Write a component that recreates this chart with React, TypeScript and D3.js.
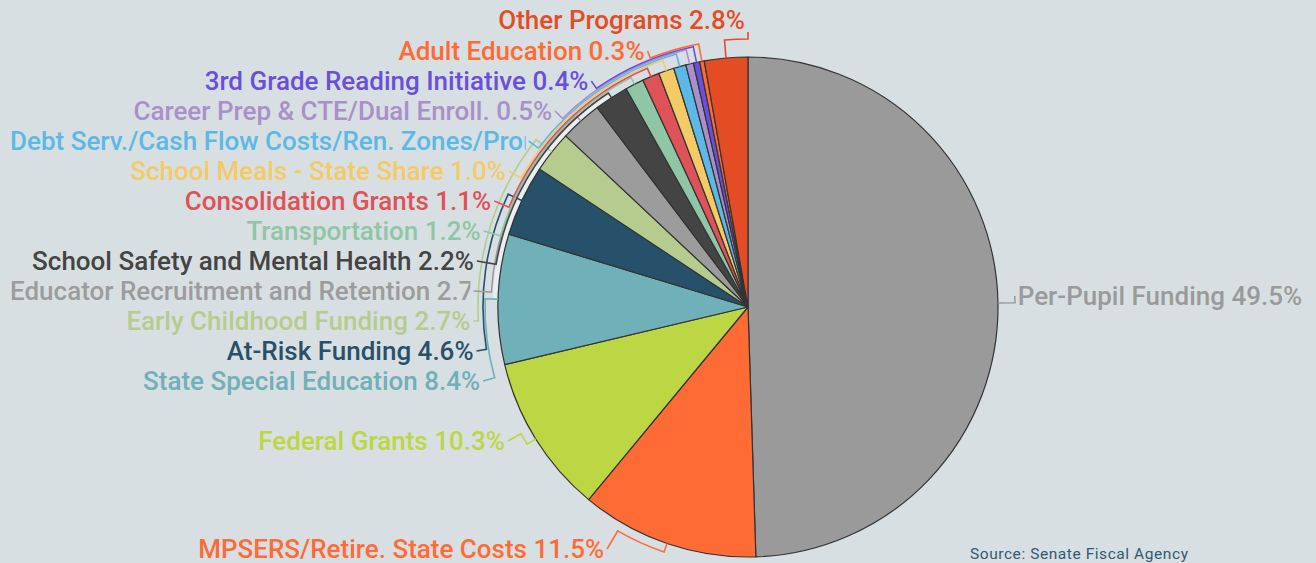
import React, { useEffect, useRef } from 'react';
import * as d3 from 'd3';

// ---- data ----
const categories = [
  'Per-Pupil Funding',
  'MPSERS/Retire. State Costs',
  'Federal Grants',
  'State Special Education',
  'At-Risk Funding',
  'Early Childhood Funding',
  'Educator Recruitment and Retention',
  'School Safety and Mental Health',
  'Transportation',
  'Consolidation Grants',
  'School Meals - State Share',
  'Debt Serv./Cash Flow Costs/Ren. Zones/Prorations',
  'Career Prep & CTE/Dual Enroll.',
  '3rd Grade Reading Initiative',
  'Adult Education',
  'Other Programs',
];
const values = [49.5, 11.5, 10.3, 8.4, 4.6, 2.7, 2.7, 2.2, 1.2, 1.1, 1.0, 0.8, 0.5, 0.4, 0.3, 2.8];
const colors = [
  '#9a9a9a', '#ff6b35', '#bdd643', '#6fb0b9', '#27506a', '#b6cc8e', '#9c9c9c', '#444444',
  '#8fc6a5', '#de5258', '#f3cb66', '#5cb9e7', '#aa90ca', '#6a4fdc', '#ff6b35', '#e44d24',
];
const sourceText = 'Source: Senate Fiscal Agency';

// ---- layout (label rows & connector routing) ----
const labelRows = [296, 549, 441, 381, 351, 321, 291, 261, 231, 201, 171, 141, 111, 81, 51, 20];
const labelRadius = [267, 280, 275, 275, 275, 275, 275, 275, 275, 275, 275, 275, 275, 275, 275, 275];
const connectorOffset = [17, 9, 10, 13, 15, 20, 7, 5.5, 7.5, 9, 11, 13, 14.5, 16, 17.5, 18];

const W = 1316;
const H = 563;
const CX = 748;
const CY = 307;
const R = 250;

export default function App() {
  const ref = useRef<SVGSVGElement>(null);

  useEffect(() => {
    document.body.style.margin = '0';
    const svg = d3.select(ref.current);
    svg.selectAll('*').remove();

    svg.append('rect').attr('width', W).attr('height', H).attr('fill', '#d8dfe2');

    const data = categories.map((name, i) => ({ name, value: values[i], color: colors[i], i }));
    const pie = d3
      .pie<any>()
      .sort(null)
      .value((d: any) => d.value)
      .startAngle(0)
      .endAngle(2 * Math.PI);
    const arcs = pie(data);
    const arcGen = d3.arc<any>().innerRadius(0).outerRadius(R);
    const mid = (a: any) => (a.startAngle + a.endAngle) / 2;
    const pt = (r: number, ang: number) => [CX + r * Math.sin(ang), CY - r * Math.cos(ang)];

    // light halo band along the crowded left edge
    const band = d3.arc<any>()({
      innerRadius: R + 0.5,
      outerRadius: R + 5.5,
      startAngle: mid(arcs[3]),
      endAngle: mid(arcs[7]),
    } as any);
    svg
      .append('path')
      .attr('transform', `translate(${CX},${CY})`)
      .attr('d', band as string)
      .attr('fill', '#e9eef0');

    // slices
    svg
      .append('g')
      .attr('transform', `translate(${CX},${CY})`)
      .selectAll('path')
      .data(arcs)
      .join('path')
      .attr('d', arcGen as any)
      .attr('fill', (d: any) => d.data.color)
      .attr('stroke', '#333')
      .attr('stroke-width', 1.2)
      .attr('stroke-linejoin', 'round');

    const defs = svg.append('defs');
    const connG = svg.append('g');
    const labG = svg.append('g');

    arcs.forEach((d: any, i: number) => {
      const a = mid(d);
      const a2 = a > Math.PI ? a - 2 * Math.PI : a;
      const left = a2 < 0;
      const rL = labelRadius[i];
      const y = labelRows[i];
      const dy = y - CY;
      let ax: number, ay: number;
      if (Math.abs(dy) < rL) {
        ax = CX + (left ? -1 : 1) * Math.sqrt(rL * rL - dy * dy);
        ay = y;
      } else {
        ax = CX;
        ay = dy < 0 ? CY - rL : CY + rL;
      }
      const b = Math.atan2(ax - CX, -(ay - CY));
      const ro = R + connectorOffset[i];
      const p0 = pt(R, a);
      const p1 = pt(ro, a);
      const p2 = pt(ro, b);
      const sweep = b > a2 ? 1 : 0;
      const path = d3.path();
      path.moveTo(p0[0], p0[1]);
      path.lineTo(p1[0], p1[1]);
      const pathStr =
        path.toString() +
        `A${ro},${ro} 0 0 ${sweep} ${p2[0]},${p2[1]}` +
        `L${ax},${ay}`;
      connG
        .append('path')
        .attr('d', pathStr)
        .attr('fill', 'none')
        .attr('stroke', d.data.color)
        .attr('stroke-width', 1.6)
        .attr('stroke-linejoin', 'miter');

      const text = labG
        .append('text')
        .attr('x', left ? ax - 3 : ax + 3)
        .attr('y', y)
        .attr('dy', '0.36em')
        .attr('text-anchor', left ? 'end' : 'start')
        .attr('font-family', 'Roboto, sans-serif')
        .attr('font-size', 26)
        .attr('font-weight', 500)
        .attr('fill', d.data.color)
        .text(`${d.data.name} ${d.data.value.toFixed(1)}%`);
      const node = text.node() as SVGTextElement;
      const w = node.getComputedTextLength();
      if (left && ax - 3 - w < 10) {
        const id = `clip-${i}`;
        defs
          .append('clipPath')
          .attr('id', id)
          .append('rect')
          .attr('x', 0)
          .attr('y', y - 20)
          .attr('width', ax - 3)
          .attr('height', 40);
        text.attr('x', 10).attr('text-anchor', 'start').attr('clip-path', `url(#${id})`);
      }
    });

    svg
      .append('text')
      .attr('x', 970)
      .attr('y', 553)
      .attr('dy', '0.36em')
      .attr('font-family', 'Roboto, sans-serif')
      .attr('font-size', 15.5)
      .attr('fill', '#2f5a76')
      .attr('textLength', 218)
      .text(sourceText);
  }, []);

  return <svg ref={ref} width={W} height={H} style={{ display: 'block' }} />;
}
